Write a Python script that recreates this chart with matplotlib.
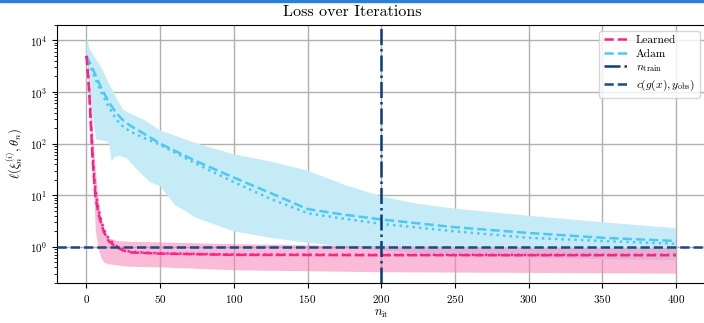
import numpy as np
import matplotlib
matplotlib.use("Agg")
import matplotlib.pyplot as plt
from matplotlib.patches import Rectangle

plt.rcParams['font.family'] = 'cmr10'
plt.rcParams['mathtext.fontset'] = 'cm'
plt.rcParams['axes.formatter.use_mathtext'] = True

# ---- data ----
# Learned optimizer
n_learned = [0, 1, 2, 3, 4, 5, 6, 8, 10, 12, 15, 20, 25, 30, 50, 100, 200, 300, 400]
learned_mean = [5000, 2200, 800, 220, 60, 22, 10, 4.5, 2.8, 1.9, 1.3, 1.0, 0.85, 0.78, 0.74, 0.70, 0.69, 0.69, 0.69]
learned_median = [5000, 2400, 900, 260, 75, 28, 13, 5.5, 3.2, 2.1, 1.45, 1.05, 0.88, 0.8, 0.75, 0.71, 0.70, 0.70, 0.70]
learned_upper = [5200, 3500, 1500, 600, 200, 80, 30, 8, 3.5, 2.0, 1.5, 1.35, 1.3, 1.28, 1.25, 1.15, 1.05, 1.0, 0.98]
learned_lower = [4500, 1500, 600, 190, 40, 10, 2.1, 0.9, 0.6, 0.5, 0.47, 0.45, 0.43, 0.42, 0.41, 0.36, 0.33, 0.32, 0.31]

# Adam
n_adam = [0, 2, 5, 10, 15, 20, 25, 30, 40, 50, 75, 100, 125, 150, 175, 200, 250, 300, 350, 400]
adam_mean = [5000, 3800, 2500, 1200, 650, 400, 280, 220, 150, 100, 45, 22, 11, 5.4, 4.2, 3.4, 2.4, 1.86, 1.5, 1.3]
adam_median = [5000, 3500, 2100, 1000, 520, 300, 210, 170, 125, 95, 40, 18, 8.5, 4.5, 3.5, 2.8, 2.0, 1.5, 1.3, 1.15]
n_adam_up = [0, 2, 5, 10, 15, 20, 25, 30, 40, 50, 75, 100, 125, 150, 175, 200, 225, 250, 300, 350, 400]
adam_upper = [11500, 7000, 5000, 3000, 1500, 800, 450, 380, 280, 180, 100, 62, 45, 30, 16, 9.5, 6.8, 5.5, 4.0, 3.0, 2.3]
n_adam_lo = [0, 1, 4, 6.5, 14, 15.5, 17, 19, 22, 27, 35, 43, 50, 60, 75, 100, 125, 150, 200, 250, 300, 350, 400]
adam_lower = [5000, 3700, 400, 120, 110, 95, 45, 55, 58, 53, 30, 18, 15, 6.5, 3.6, 2.0, 1.5, 1.2, 0.85, 0.68, 0.62, 0.58, 0.55]

n_train = 200
c_obs = 1.0

pink = '#f72585'
blue = '#4cc9f0'
blue_fill = '#c5ebf7'
navy_v = '#0a3d7a'
navy_h = '#1b4a84'

fig = plt.figure(figsize=(7.04, 3.23), dpi=100)
fig.patches.append(Rectangle((0, 0.994), 1, 0.006, transform=fig.transFigure,
                             color='#2a7fd8', zorder=10))
ax = fig.add_axes([0.081, 0.124, 0.921, 0.799])

# Adam band polygon from its own upper and lower arrays
xs = list(n_adam_up) + list(n_adam_lo)[::-1]
ys = list(adam_upper) + list(adam_lower)[::-1]
ax.fill(xs, ys, color=blue_fill, linewidth=0, zorder=1)
ax.fill_between(n_learned, learned_lower, learned_upper, color='#f783b8', alpha=0.55,
                linewidth=0, zorder=1.5)

ax.plot(n_adam, adam_median, color=blue, lw=1.8, ls=(0, (1, 1.6)), zorder=3)
ax.plot(n_adam, adam_mean, color=blue, lw=1.8, ls=(0, (3.7, 1.6)), zorder=3, label='Adam')
ax.plot(n_learned, learned_median, color=pink, lw=1.8, ls=(0, (1, 1.6)), zorder=3)
ax.plot(n_learned, learned_mean, color=pink, lw=1.8, ls=(0, (3.7, 1.6)), zorder=3, label='Learned')

ax.axvline(n_train, color=navy_v, lw=1.8, ls='-.', zorder=4, label=r'$n_{\mathrm{train}}$')
ax.axhline(c_obs, color=navy_h, lw=1.8, ls='--', zorder=4, label=r'$c(g(x), y_{\mathrm{obs}})$')

ax.set_yscale('log')
ax.set_xlim(-20, 420)
ax.set_ylim(0.2, 2e4)
ax.set_xticks([0, 50, 100, 150, 200, 250, 300, 350, 400])
ax.grid(True, which='major', color='#b0b0b0', lw=1.0)
ax.set_axisbelow(True)
ax.tick_params(labelsize=8)
ax.set_xlabel(r'$n_{\mathrm{it}}$', fontsize=9, labelpad=2)
ax.set_ylabel(r'$\ell(\xi_n^{(i)}, \theta_n)$', fontsize=9)
fig.text(0.5, 0.962, 'Loss over Iterations', fontsize=11.5, ha='center', va='center')

handles, labels = ax.get_legend_handles_labels()
order = [labels.index('Learned'), labels.index('Adam'),
         labels.index(r'$n_{\mathrm{train}}$'), labels.index(r'$c(g(x), y_{\mathrm{obs}})$')]
ax.legend([handles[i] for i in order], [labels[i] for i in order], fontsize=8.3,
          loc='upper right', bbox_to_anchor=(1.0, 1.0), handlelength=2.0,
          borderpad=0.4, labelspacing=0.3)

fig.savefig('out.png', dpi=100)
